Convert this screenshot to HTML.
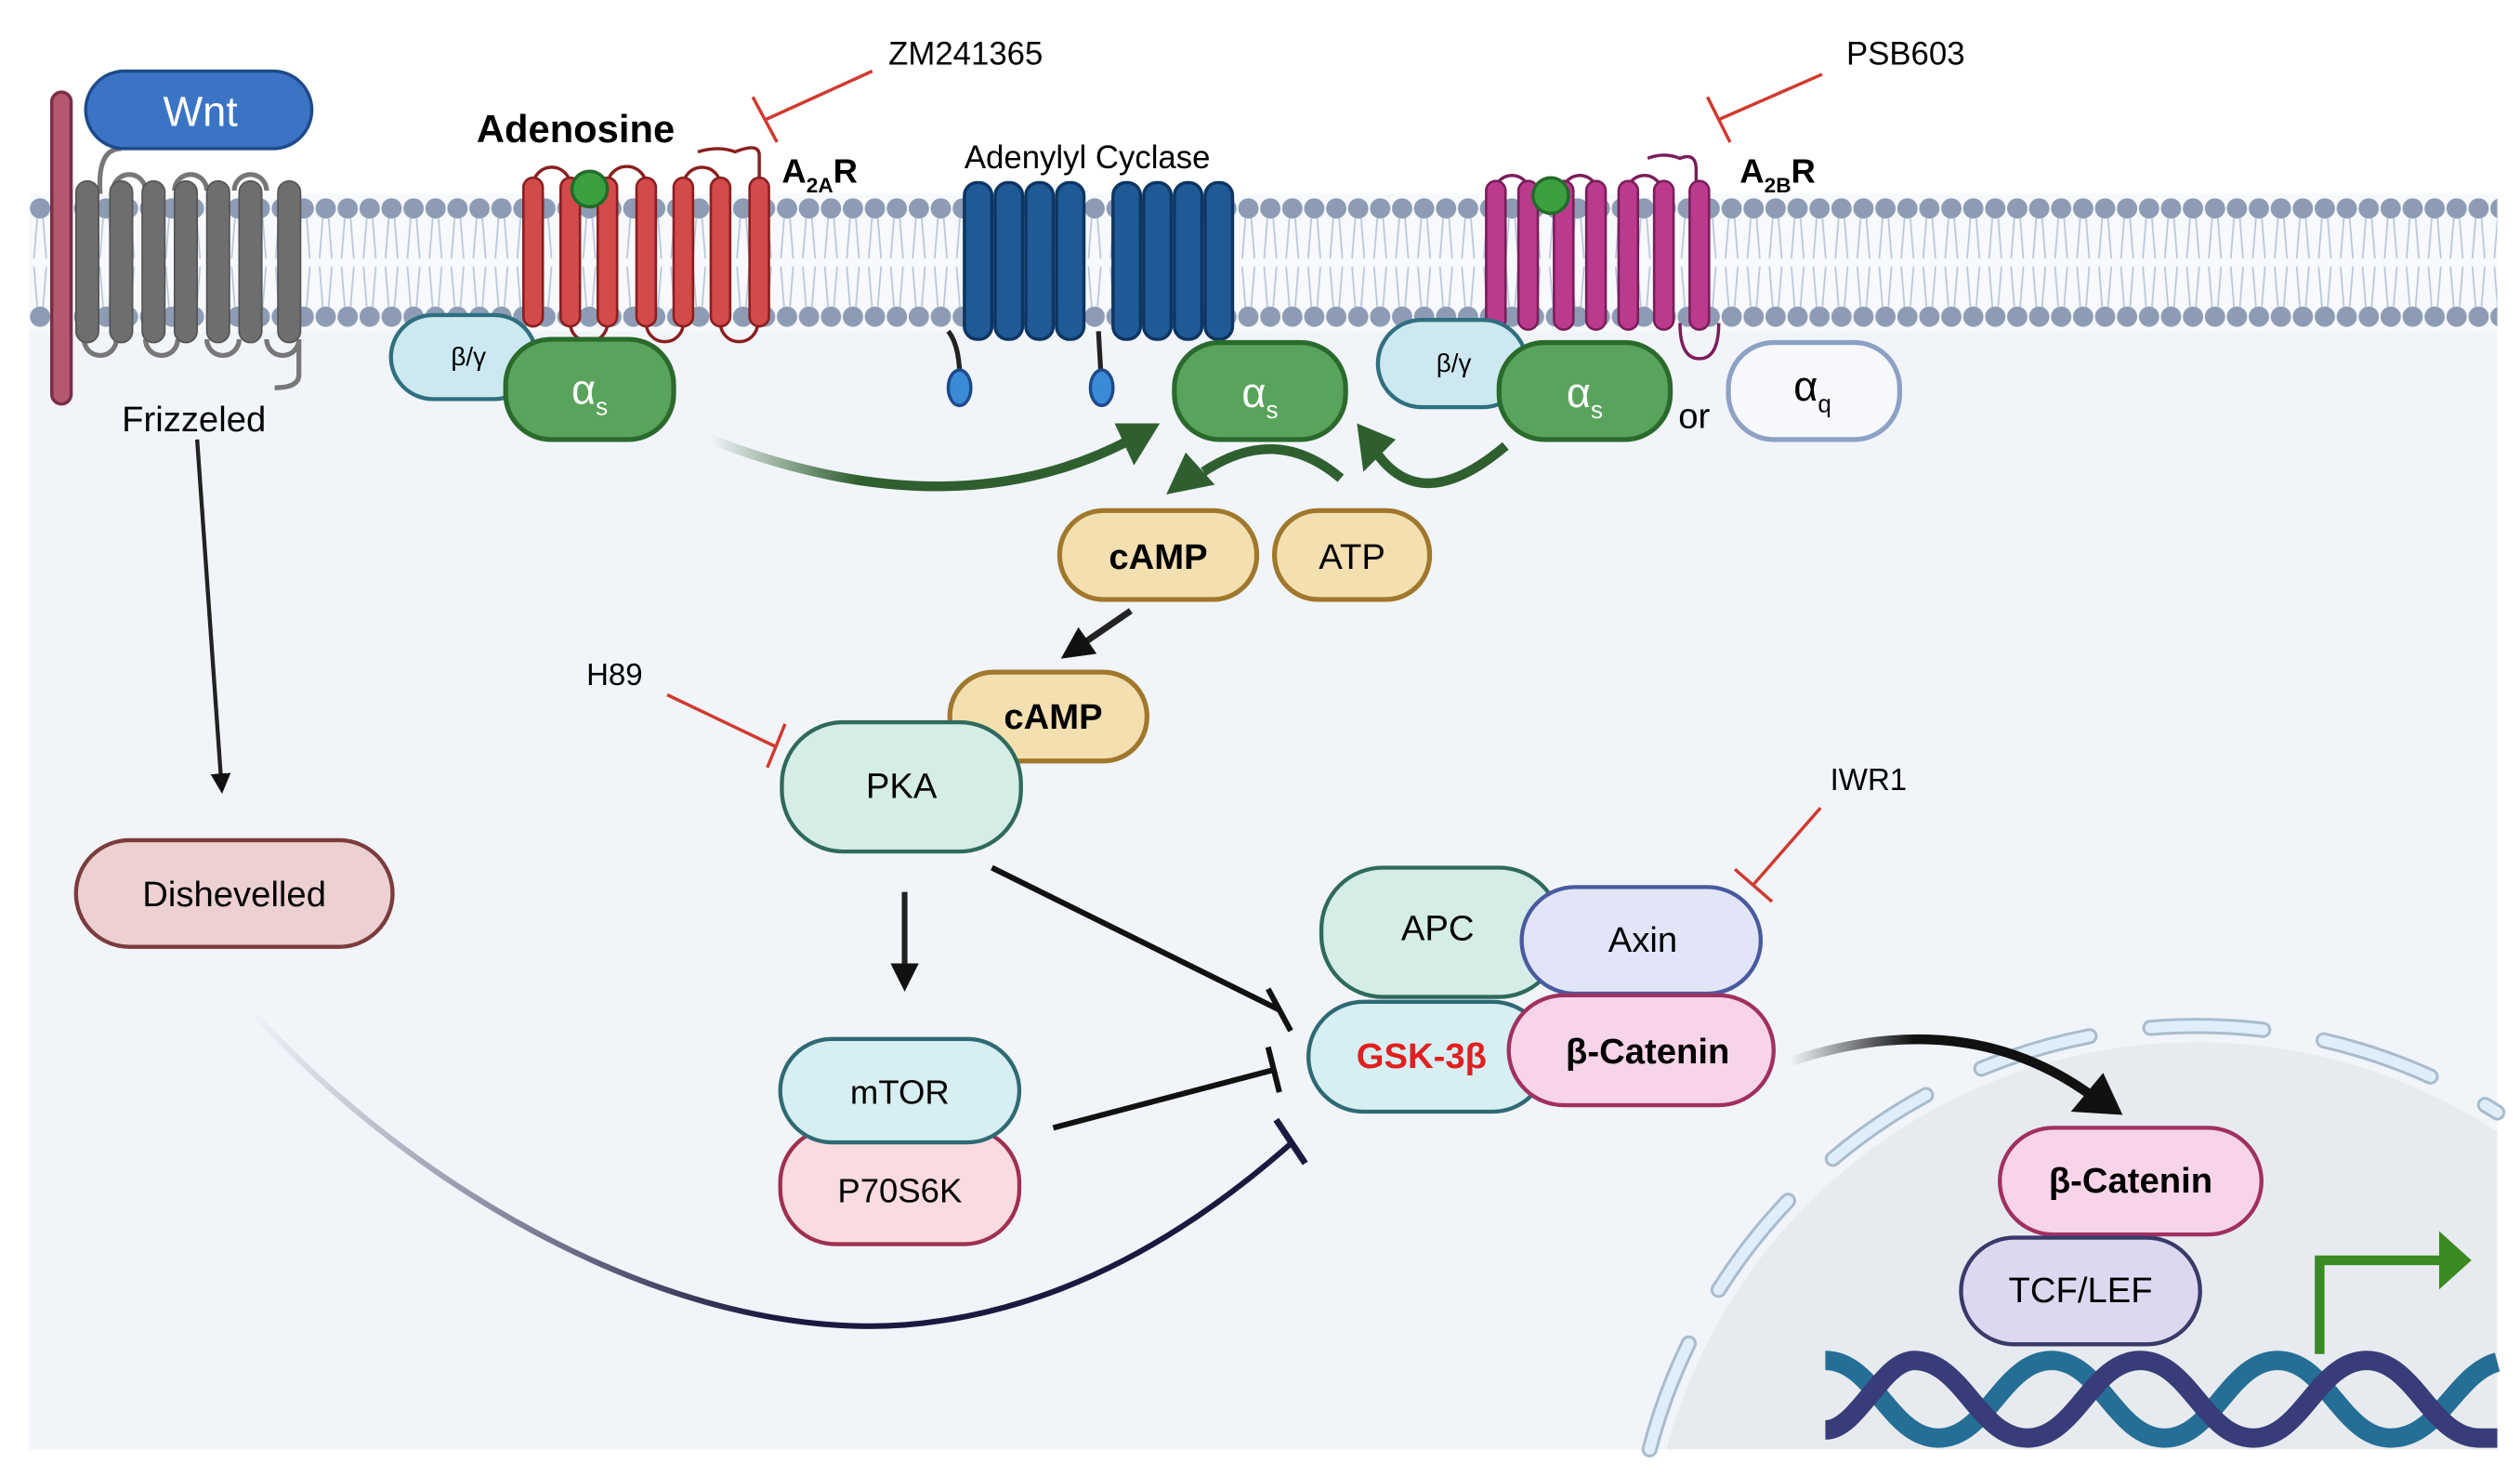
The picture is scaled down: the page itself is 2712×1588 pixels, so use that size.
<!DOCTYPE html>
<html><head><meta charset="utf-8"><style>html,body{margin:0;padding:0;background:#fff;width:2712px;height:1588px;overflow:hidden}svg{display:block;position:absolute;left:0;top:0}text{font-family:"Liberation Sans",sans-serif}</style></head>
<body>
<svg width="2712" height="1588" viewBox="0 0 1560 913.5" xmlns="http://www.w3.org/2000/svg">
<defs>
<pattern id="lip" x="18" y="0" width="13.6" height="913" patternUnits="userSpaceOnUse">
<circle cx="6.8" cy="129" r="6.3" fill="#8d9cb4"/>
<circle cx="6.8" cy="196" r="6.3" fill="#8d9cb4"/>
<path d="M5 135 L3 160 M8.6 135 L10.6 160 M5 190 L3 165 M8.6 190 L10.6 165" stroke="#b8c6dc" stroke-width="1"/>
</pattern>
<linearGradient id="gc" x1="0" x2="1"><stop offset="0" stop-color="#2f5f2f" stop-opacity="0"/><stop offset="0.35" stop-color="#2f5f2f"/></linearGradient>
<linearGradient id="gk" x1="0" x2="1"><stop offset="0" stop-color="#111" stop-opacity="0"/><stop offset="0.4" stop-color="#111"/></linearGradient>
<linearGradient id="gd" x1="0" x2="1"><stop offset="0" stop-color="#1a1a40" stop-opacity="0"/><stop offset="0.5" stop-color="#1a1a40"/></linearGradient>
<marker id="ak" viewBox="0 0 10 10" refX="5" refY="5" markerWidth="5" markerHeight="5" orient="auto"><path d="M0 0 L10 5 L0 10 Z" fill="#111"/></marker>
</defs>
<rect x="18" y="120" width="1528" height="777" fill="#f1f4f9"/>
<rect x="18" y="120" width="1528" height="85" fill="#f7f9fc"/>
<rect x="18" y="120" width="1528" height="85" fill="url(#lip)"/>
<path d="M1031.6 897 A340 340 0 0 1 1546 700.4 L1546 897 Z" fill="#e7ebef"/>
<path d="M1021.2 897 A350 350 0 0 1 1546 688.5" fill="none" stroke="#a9bccb" stroke-width="10" stroke-dasharray="70 38" stroke-linecap="round"/>
<path d="M1021.2 897 A350 350 0 0 1 1546 688.5" fill="none" stroke="#e0eefa" stroke-width="6.5" stroke-dasharray="70 38" stroke-linecap="round"/>
<g fill="none" stroke-width="12">
<path d="M1130 842 C1160 842 1170 890 1200 890 C1230 890 1240 842 1270 842 C1300 842 1310 890 1340 890 C1370 890 1380 842 1410 842 C1440 842 1450 890 1480 890 C1510 890 1520 850 1546 843" stroke="#256e96"/>
<path d="M1130 885 C1150 885 1165 842 1185 842 C1215 842 1225 890 1255 890 C1285 890 1295 842 1325 842 C1355 842 1365 890 1395 890 C1425 890 1435 842 1465 842 C1495 842 1505 890 1535 890 L1546 890" stroke="#383c78"/>
</g>
<path d="M1436 838 V780 H1512" fill="none" stroke="#3a8a22" stroke-width="6"/>
<path d="M1510 762 L1530 780 L1510 798 Z" fill="#3a8a22"/>

<rect x="32" y="57" width="12" height="193" rx="6" fill="#b5576f" stroke="#7a2e45" stroke-width="2"/>
<path d="M75 92 Q60 92 62 120" fill="none" stroke="#777" stroke-width="3"/>
<g fill="none" stroke="#777" stroke-width="3">
<path d="M70 118 a10 10 0 0 1 20 0 M108 118 a10 10 0 0 1 20 0 M145 118 a10 10 0 0 1 20 0"/>
<path d="M52 210 a10 10 0 0 0 20 0 M90 210 a10 10 0 0 0 20 0 M128 210 a10 10 0 0 0 20 0 M165 210 a10 10 0 0 0 20 0 L185 232 Q185 240 170 240"/>
</g>
<g fill="#6e6e6e" stroke="#555" stroke-width="1">
<rect x="47" y="112" width="14" height="100" rx="7"/><rect x="68" y="112" width="14" height="100" rx="7"/><rect x="88" y="112" width="14" height="100" rx="7"/><rect x="108" y="112" width="14" height="100" rx="7"/><rect x="128" y="112" width="14" height="100" rx="7"/><rect x="148" y="112" width="14" height="100" rx="7"/><rect x="172" y="112" width="14" height="100" rx="7"/>
</g>
<rect x="53" y="44" width="140" height="48" rx="24" fill="#3b74c4" stroke="#1d4a8a" stroke-width="2"/>
<text x="124" y="78" font-size="26" fill="#fff" text-anchor="middle">Wnt</text>
<text x="120" y="267" font-size="22" text-anchor="middle">Frizzeled</text>
<path d="M122 272 L137 485" stroke="#222" stroke-width="2.5" marker-end="url(#ak)"/>
<rect x="47" y="520" width="196" height="66" rx="33" fill="#ecd0d2" stroke="#7a3c3c" stroke-width="2.5"/>
<text x="145" y="561" font-size="22" text-anchor="middle">Dishevelled</text>
<path d="M155 625 C260 740 420 830 560 820 C660 812 740 760 800 707" fill="none" stroke="url(#gd)" stroke-width="3.5"/>
<path d="M790 693 L808 720" stroke="#1a1a40" stroke-width="4"/>

<g fill="none" stroke="#8a1f1f" stroke-width="2">
<path d="M330 115 a11 11 0 0 1 23 0 M376 115 a11 11 0 0 1 24 0 M423 115 a11 11 0 0 1 23 0 M432 94 Q445 90 455 94 Q470 88 470 96 L470 118"/>
<path d="M353 200 a11 11 0 0 0 23 0 M400 200 a11 11 0 0 0 23 0 M446 200 a11 11 0 0 0 23 0"/>
</g>
<g fill="#d24a4a" stroke="#8a1f1f" stroke-width="1.5">
<rect x="324" y="110" width="12" height="92" rx="6"/><rect x="347" y="110" width="12" height="92" rx="6"/><rect x="370" y="110" width="12" height="92" rx="6"/><rect x="394" y="110" width="12" height="92" rx="6"/><rect x="417" y="110" width="12" height="92" rx="6"/><rect x="440" y="110" width="12" height="92" rx="6"/><rect x="464" y="110" width="12" height="92" rx="6"/>
</g>
<circle cx="365" cy="117" r="11" fill="#3aa040" stroke="#246a28" stroke-width="2"/>
<text x="295" y="88" font-size="24" font-weight="bold">Adenosine</text>
<text x="484" y="113" font-size="21" font-weight="bold">A<tspan font-size="13" dy="6">2A</tspan><tspan dy="-6">R</tspan></text>
<text x="550" y="40" font-size="20">ZM241365</text>
<path d="M540 44 L474 74 M466 60 L481 88" stroke="#d03a30" stroke-width="2"/>
<rect x="242" y="195" width="90" height="52" rx="26" fill="#cde8f0" stroke="#2f6f80" stroke-width="2.5"/>
<text x="290" y="226" font-size="16" text-anchor="middle">β/γ</text>
<rect x="313" y="210" width="104" height="62" rx="28" fill="#5aa35c" stroke="#2a6a2c" stroke-width="3"/>
<text x="365" y="250" font-size="26" fill="#fff" text-anchor="middle">α<tspan font-size="15" dy="7">s</tspan></text>

<text x="597" y="104" font-size="20">Adenylyl Cyclase</text>
<g fill="none" stroke="#222" stroke-width="3">
<path d="M587 205 Q595 215 594 240 M680 205 L682 240"/>
</g>
<ellipse cx="594" cy="240" rx="7" ry="11" fill="#3a8ad8" stroke="#1d4a8a" stroke-width="2"/>
<ellipse cx="682" cy="240" rx="7" ry="11" fill="#3a8ad8" stroke="#1d4a8a" stroke-width="2"/>
<g fill="#1f5a96" stroke="#0e3562" stroke-width="2">
<rect x="597" y="113" width="17" height="97" rx="8"/><rect x="616" y="113" width="17" height="97" rx="8"/><rect x="635" y="113" width="17" height="97" rx="8"/><rect x="654" y="113" width="17" height="97" rx="8"/>
<rect x="689" y="113" width="17" height="97" rx="8"/><rect x="708" y="113" width="17" height="97" rx="8"/><rect x="727" y="113" width="17" height="97" rx="8"/><rect x="746" y="113" width="17" height="97" rx="8"/>
</g>
<rect x="727" y="212" width="106" height="60" rx="28" fill="#5aa35c" stroke="#2a6a2c" stroke-width="3"/>
<text x="780" y="252" font-size="26" fill="#fff" text-anchor="middle">α<tspan font-size="15" dy="7">s</tspan></text>

<g fill="none" stroke="#7a1e5a" stroke-width="2">
<path d="M926 115 a11 11 0 0 1 20 0 M968 115 a11 11 0 0 1 20 0 M1008 115 a11 11 0 0 1 20 0 M1020 98 Q1030 94 1040 98 Q1050 94 1050 105 L1050 118"/>
<path d="M1040 200 Q1040 222 1052 222 Q1064 222 1064 200"/>
</g>
<g fill="#bb3a8e" stroke="#7a1e5a" stroke-width="1.5">
<rect x="920" y="112" width="12" height="92" rx="6"/><rect x="940" y="112" width="12" height="92" rx="6"/><rect x="962" y="112" width="12" height="92" rx="6"/><rect x="982" y="112" width="12" height="92" rx="6"/><rect x="1002" y="112" width="12" height="92" rx="6"/><rect x="1024" y="112" width="12" height="92" rx="6"/><rect x="1046" y="112" width="12" height="92" rx="6"/>
</g>
<circle cx="960" cy="121" r="11" fill="#3aa040" stroke="#246a28" stroke-width="2"/>
<text x="1077" y="113" font-size="21" font-weight="bold">A<tspan font-size="13" dy="6">2B</tspan><tspan dy="-6">R</tspan></text>
<text x="1143" y="40" font-size="20">PSB603</text>
<path d="M1128 46 L1064 74 M1057 60 L1071 88" stroke="#d03a30" stroke-width="2"/>
<rect x="853" y="198" width="92" height="54" rx="27" fill="#cde8f0" stroke="#2f6f80" stroke-width="2.5"/>
<text x="900" y="230" font-size="16" text-anchor="middle">β/γ</text>
<rect x="928" y="212" width="106" height="60" rx="28" fill="#5aa35c" stroke="#2a6a2c" stroke-width="3"/>
<text x="981" y="252" font-size="26" fill="#fff" text-anchor="middle">α<tspan font-size="15" dy="7">s</tspan></text>
<text x="1039" y="265" font-size="22">or</text>
<rect x="1070" y="212" width="106" height="60" rx="28" fill="#f6f8fc" stroke="#8da1c5" stroke-width="3"/>
<text x="1122" y="248" font-size="26" text-anchor="middle">α<tspan font-size="15" dy="7">q</tspan></text>

<path d="M440 272 Q590 330 700 272" fill="none" stroke="url(#gc)" stroke-width="6"/>
<path d="M718 262 L690 262 L702 288 Z" fill="#2f5f2f"/>
<path d="M830 296 Q790 262 745 292" fill="none" stroke="#2f5f2f" stroke-width="6"/>
<path d="M722 306 L734 280 L752 300 Z" fill="#2f5f2f"/>
<path d="M932 276 Q880 320 852 280" fill="none" stroke="#2f5f2f" stroke-width="6"/>
<path d="M840 262 L864 272 L844 292 Z" fill="#2f5f2f"/>

<rect x="656" y="316" width="122" height="55" rx="27" fill="#f3dfb0" stroke="#a0782c" stroke-width="3"/>
<text x="717" y="352" font-size="22" font-weight="bold" text-anchor="middle">cAMP</text>
<rect x="789" y="316" width="96" height="55" rx="27" fill="#f3dfb0" stroke="#a0782c" stroke-width="3"/>
<text x="837" y="352" font-size="22" text-anchor="middle">ATP</text>
<path d="M700 378 L665 402" stroke="#222" stroke-width="4" marker-end="url(#ak)"/>
<rect x="588" y="416" width="122" height="55" rx="27" fill="#f3dfb0" stroke="#a0782c" stroke-width="3"/>
<text x="652" y="451" font-size="22" font-weight="bold" text-anchor="middle">cAMP</text>
<rect x="484" y="447" width="148" height="80" rx="38" fill="#d5ede6" stroke="#2f6a5c" stroke-width="2.5"/>
<text x="558" y="494" font-size="22" text-anchor="middle">PKA</text>
<text x="363" y="424" font-size="19">H89</text>
<path d="M413 430 L480 462 M486 448 L475 475" stroke="#d03a30" stroke-width="2"/>
<path d="M560 552 L560 605" stroke="#222" stroke-width="3.5" marker-end="url(#ak)"/>
<rect x="483" y="698" width="148" height="72" rx="34" fill="#fadbe2" stroke="#a03050" stroke-width="2.5"/>
<text x="557" y="744" font-size="21" text-anchor="middle">P70S6K</text>
<rect x="483" y="643" width="148" height="64" rx="32" fill="#d7eef2" stroke="#2f6a74" stroke-width="2.5"/>
<text x="557" y="683" font-size="21" text-anchor="middle">mTOR</text>
<path d="M614 537 L792 625 M785 612 L799 638" stroke="#111" stroke-width="3.5"/>
<path d="M652 698 L789 662 M785 648 L792 676" stroke="#111" stroke-width="3.5"/>

<rect x="818" y="537" width="148" height="80" rx="38" fill="#d5ede6" stroke="#2f6a5c" stroke-width="2.5"/>
<text x="890" y="582" font-size="22" text-anchor="middle">APC</text>
<rect x="942" y="549" width="148" height="66" rx="33" fill="#e1e5f7" stroke="#4a5aa0" stroke-width="2.5"/>
<text x="1017" y="589" font-size="22" text-anchor="middle">Axin</text>
<rect x="810" y="620" width="148" height="68" rx="34" fill="#d7eef2" stroke="#2f6a74" stroke-width="2.5"/>
<text x="880" y="661" font-size="22" font-weight="bold" fill="#e02020" text-anchor="middle">GSK-3β</text>
<rect x="934" y="616" width="164" height="68" rx="34" fill="#f7d4e8" stroke="#a03060" stroke-width="2.5"/>
<text x="1020" y="658" font-size="22" font-weight="bold" text-anchor="middle">β-Catenin</text>
<text x="1133" y="489" font-size="19">IWR1</text>
<path d="M1127 500 L1085 548 M1074 538 L1097 558" stroke="#d03a30" stroke-width="2"/>
<path d="M1108 657 Q1220 620 1300 682" fill="none" stroke="url(#gk)" stroke-width="6"/>
<path d="M1314 690 L1282 688 L1302 664 Z" fill="#111"/>
<rect x="1238" y="698" width="162" height="66" rx="33" fill="#f7d4e8" stroke="#a03060" stroke-width="2.5"/>
<text x="1319" y="738" font-size="22" font-weight="bold" text-anchor="middle">β-Catenin</text>
<rect x="1214" y="766" width="148" height="66" rx="33" fill="#dcd8f0" stroke="#3a3a6a" stroke-width="2.5"/>
<text x="1288" y="806" font-size="22" text-anchor="middle">TCF/LEF</text>
</svg>
</body></html>
